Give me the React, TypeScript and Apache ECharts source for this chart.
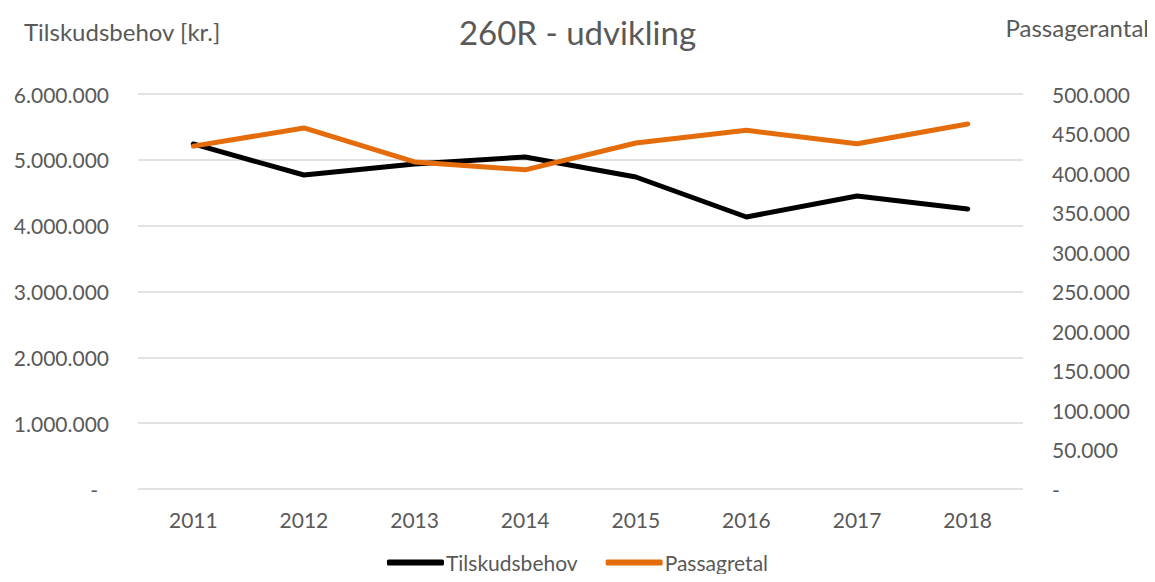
import React, { useEffect, useRef } from "react";
import * as echarts from "echarts";

const years = ["2011", "2012", "2013", "2014", "2015", "2016", "2017", "2018"];
const tilskudsbehov = [5241000, 4770000, 4937000, 5043000, 4739000, 4132000, 4451000, 4253000];
const passagertal = [434000, 457000, 414000, 404000, 438000, 454000, 437000, 462000];

const FONT = "Lato, 'Open Sans', sans-serif";
const GREY = "#595959";
const LBL = 21;

const fmt = (v: number) => {
  if (v === 0) return "-";
  return Math.round(v)
    .toString()
    .replace(/\B(?=(\d{3})+(?!\d))/g, ".");
};

export default function App() {
  const ref = useRef<HTMLDivElement>(null);
  useEffect(() => {
    if (!ref.current) return;
    const chart = echarts.init(ref.current, undefined, { renderer: "svg" });
    chart.setOption({
      animation: false,
      backgroundColor: "#ffffff",
      textStyle: { fontFamily: FONT },
      title: {
        text: "260R - udvikling",
        left: "center",
        top: 10,
        textStyle: { fontFamily: FONT, fontSize: 33, fontWeight: "normal", color: GREY },
      },
      graphic: [
        {
          type: "text",
          x: 24,
          y: 31,
          style: {
            text: "Tilskudsbehov [kr.]",
            fontFamily: FONT,
            fontSize: 24,
            fill: GREY,
            align: "left",
            verticalAlign: "middle",
          },
        },
        {
          type: "text",
          x: 1149,
          y: 27,
          style: {
            text: "Passagerantal",
            fontFamily: FONT,
            fontSize: 24,
            fill: GREY,
            align: "right",
            verticalAlign: "middle",
          },
        },
      ],
      legend: {
        top: 552,
        left: "center",
        padding: 0,
        itemWidth: 57,
        itemHeight: 6,
        itemGap: 28,
        icon: "roundRect",
        textStyle: { fontFamily: FONT, fontSize: 21, color: GREY, padding: [0, 0, 0, -3] },
        data: ["Tilskudsbehov", "Passagretal"],
      },
      grid: { left: 138, right: 132, top: 94, bottom: 93, containLabel: false },
      xAxis: {
        type: "category",
        data: years,
        boundaryGap: true,
        axisLine: { show: false },
        axisTick: { show: false },
        axisLabel: { color: GREY, fontFamily: FONT, fontSize: LBL, margin: 20 },
      },
      yAxis: [
        {
          type: "value",
          min: 0,
          max: 6000000,
          interval: 1000000,
          axisLine: { show: false },
          axisTick: { show: false },
          splitLine: { lineStyle: { color: "#D9D9D9", width: 1.5 } },
          axisLabel: {
            color: GREY,
            fontFamily: FONT,
            fontSize: LBL,
            margin: 29,
            formatter: (v: number) => (v === 0 ? "{d|-}" : fmt(v)),
            rich: { d: { color: GREY, fontFamily: FONT, fontSize: LBL, padding: [0, 11, 0, 0] } },
          },
        },
        {
          type: "value",
          min: 0,
          max: 500000,
          interval: 50000,
          position: "right",
          axisLine: { show: false },
          axisTick: { show: false },
          splitLine: { show: false },
          axisLabel: { color: GREY, fontFamily: FONT, fontSize: LBL, margin: 29, formatter: fmt },
        },
      ],
      series: [
        {
          name: "Tilskudsbehov",
          type: "line",
          data: tilskudsbehov,
          yAxisIndex: 0,
          symbol: "none",
          color: "#000000",
          lineStyle: { color: "#000000", width: 5, cap: "round", join: "round" },
        },
        {
          name: "Passagretal",
          type: "line",
          data: passagertal,
          yAxisIndex: 1,
          symbol: "none",
          color: "#E46C0A",
          lineStyle: { color: "#E46C0A", width: 5, cap: "round", join: "round" },
        },
      ],
    });
    return () => chart.dispose();
  }, []);
  return <div ref={ref} style={{ width: 1155, height: 582, margin: -8 }} />;
}
